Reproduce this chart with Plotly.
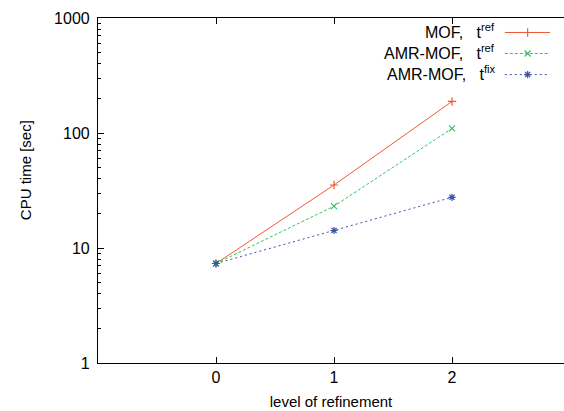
import plotly.graph_objects as go

levels = [0, 1, 2]
mof_ref = [7.33, 35.3, 188]
amr_ref = [7.33, 23.1, 109.6]
amr_fix = [7.33, 14.2, 27.6]

names = ["MOF,\u00a0\u00a0\u00a0t<sup>ref</sup>",
         "AMR-MOF,\u00a0\u00a0\u00a0t<sup>ref</sup>",
         "AMR-MOF,\u00a0\u00a0\u00a0t<sup>fix</sup>"]
colors = ["#f05a35", "#33c463", "#3653ad"]
dashes = ["solid", "3px,2px", "2px,3px"]
symbols = ["cross-thin-open", "x-thin-open", "asterisk-open"]
series = [mof_ref, amr_ref, amr_fix]

FONT = "Liberation Sans, Arial, sans-serif"

fig = go.Figure()
for ys, c, d, s in zip(series, colors, dashes, symbols):
    fig.add_trace(go.Scatter(x=levels, y=ys, mode="lines+markers",
                             line=dict(color=c, width=1, dash=d),
                             marker=dict(symbol=s, size=6, color=c,
                                         line=dict(color=c, width=1.2)),
                             showlegend=False))

# legend (gnuplot style: text right, sample to the right)
leg_y = [0.958, 0.897, 0.836]
for i, (c, d, s) in enumerate(zip(colors, dashes, symbols)):
    fig.add_trace(go.Scatter(x=[0.873, 0.970], y=[leg_y[i]] * 2, mode="lines",
                             line=dict(color=c, width=1, dash=d),
                             xaxis="x2", yaxis="y2", showlegend=False, hoverinfo="skip"))
    fig.add_trace(go.Scatter(x=[0.922], y=[leg_y[i]], mode="markers",
                             marker=dict(symbol=s, size=6, color=c, line=dict(color=c, width=1.2)),
                             xaxis="x2", yaxis="y2", showlegend=False, hoverinfo="skip"))
    fig.add_annotation(x=0.856, y=leg_y[i] + 0.005, xref="x2", yref="y2", text=names[i],
                       showarrow=False, xanchor="right", yanchor="middle",
                       font=dict(family=FONT, size=16, color="black"))

fig.add_annotation(x=(25 - 98) / 466, y=0.559, xref="paper", yref="paper",
                   text="CPU time [sec]", textangle=-90, showarrow=False,
                   xanchor="center", yanchor="middle",
                   font=dict(family=FONT, size=15, color="black"))

fig.update_layout(
    width=564, height=411,
    margin=dict(l=98, r=0, t=17.5, b=48, autoexpand=False),
    paper_bgcolor="white", plot_bgcolor="white",
    font=dict(family=FONT, size=16, color="black"),
    xaxis=dict(range=[-1, 2.949], tickvals=levels, ticktext=["0", "1", "2"],
               ticks="inside", ticklen=6, tickcolor="black", mirror="ticks",
               showline=True, linecolor="black", linewidth=1.2, showgrid=False,
               zeroline=False, automargin=False,
               title=dict(text="level of refinement", standoff=11,
                          font=dict(family=FONT, size=15))),
    yaxis=dict(type="log", range=[0, 3], tickvals=[1, 10, 100, 1000],
               ticktext=["1", "10", "100", "1000"],
               ticks="inside", ticklen=6, tickcolor="black", mirror=False,
               showline=True, linecolor="black", linewidth=1.2, showgrid=False,
               zeroline=False, automargin=False, ticklabelstandoff=4,
               minor=dict(ticks="inside", ticklen=3, tickcolor="black",
                          tickvals=[v * 10 ** k for k in range(3) for v in range(2, 10)])),
    xaxis2=dict(overlaying="x", range=[0, 1], visible=False, fixedrange=True),
    yaxis2=dict(overlaying="y", range=[0, 1], visible=False, fixedrange=True),
)

fig.write_html("out.html", config={"displayModeBar": False},
               post_script="document.body.style.margin='0';document.body.style.overflow='hidden';")
